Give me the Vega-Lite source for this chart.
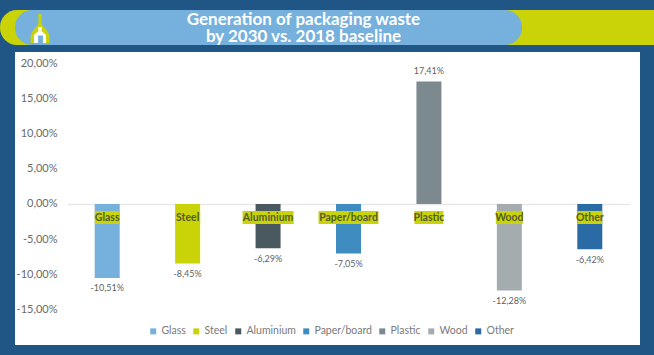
{
"$schema":"https://vega.github.io/schema/vega-lite/v6.json",
"width":625,"height":293,
"autosize":{"type":"none"},
"padding":{"left":15,"top":52,"right":14,"bottom":10},
"background":"#1f5686",
"config":{"locale":{"number":{"decimal":",","thousands":".","grouping":[3],"currency":["","%"],"minus":"-"}},
"font":"Lato","view":{"fill":"#ffffff","stroke":null}},
"title":{"text":["Generation of packaging waste","by 2030 vs. 2018 baseline"],"anchor":"middle","frame":"group","dx":-24,"offset":-36,"font":"Lato","fontSize":17,"fontWeight":"bold","color":"#ffffff","lineHeight":17.5,"zindex":1},
"data":{"values":[
{"material":"Glass","change":-0.1051},
{"material":"Steel","change":-0.0845},
{"material":"Aluminium","change":-0.0629},
{"material":"Paper/board","change":-0.0705},
{"material":"Plastic","change":0.1741},
{"material":"Wood","change":-0.1228},
{"material":"Other","change":-0.0642}
]},
"encoding":{
"x":{"field":"material","type":"nominal","sort":null,"scale":{"range":[52,615]},
"axis":{"title":null,"labels":false,"ticks":false,"domainColor":"#e8e8e8","domainWidth":1.5,"offset":-141,"orient":"bottom"}}
},
"layer":[
{"data":{"values":[{}]},"mark":{"type":"rect","color":"#c9d308","cornerRadiusTopLeft":17,"cornerRadiusBottomLeft":17},
"encoding":{"x":{"value":-15},"x2":{"value":640},"y":{"value":-42},"y2":{"value":-7}}},
{"data":{"values":[{}]},"mark":{"type":"rect","color":"#76b0dc","cornerRadius":17},
"encoding":{"x":{"value":0},"x2":{"value":507},"y":{"value":-42},"y2":{"value":-7}}},
{"data":{"values":[{}]},"mark":{"type":"point","filled":true,"opacity":1,"color":"#c9d308","shape":"M-0.11,-1 L0.11,-1 L0.11,-0.35 C0.15,-0.1 0.65,0.1 0.65,0.6 L0.65,1 L-0.65,1 L-0.65,0.6 C-0.65,0.1 -0.15,-0.1 -0.11,-0.35 Z","size":841},
"encoding":{"x":{"value":25},"y":{"value":-23.5}}},
{"data":{"values":[{}]},"mark":{"type":"point","filled":true,"opacity":1,"color":"#ffffff","shape":"M-0.75,1 L-0.75,0 L-0.2,-0.5 L-0.2,-1 L0.2,-1 L0.2,-0.5 L0.75,0 L0.75,1 Z","size":256},
"encoding":{"x":{"value":25},"y":{"value":-17}}},
{"data":{"values":[{}]},"mark":{"type":"point","filled":true,"opacity":1,"color":"#76b0dc","shape":"M-0.6,1 L-0.6,-1 L0.6,-1 L0.6,1 Z","size":64},
"encoding":{"x":{"value":25.5},"y":{"value":-12.5}}},
{"mark":{"type":"bar","width":25},
"encoding":{
"y":{"field":"change","type":"quantitative","scale":{"domain":[-0.2003,0.2159],"nice":false,"zero":false},
"axis":{"title":null,"values":[0.2,0.15,0.1,0.05,0,-0.05,-0.1,-0.15],"format":".2%","grid":false,"domain":false,"ticks":false,"labelPadding":0,"offset":-42,"labelColor":"#6a6a6a","labelFontSize":11,"labelFont":"Lato"}},
"color":{"field":"material","type":"nominal","sort":null,
"scale":{"range":["#76b0dc","#c9d308","#4a5860","#3f8cc0","#7c8a90","#a5acb0","#2a6ba5"]},
"legend":{"title":null,"orient":"none","legendX":133,"legendY":274,"direction":"horizontal","columns":7,"symbolType":"square","symbolSize":36,"symbolStrokeWidth":0,"labelFontSize":10.5,"labelColor":"#7a7a7a","labelFont":"Lato","columnPadding":5,"labelOffset":3,"padding":0}}
}},
{"mark":{"type":"text","baseline":"middle","dy":10.5,"fontSize":9,"color":"#5f5f5f"},
"transform":[{"filter":"datum.change < 0"}],
"encoding":{"y":{"field":"change","type":"quantitative"},"text":{"field":"change","type":"quantitative","format":".2%"}}},
{"mark":{"type":"text","baseline":"middle","dy":-10.5,"fontSize":9,"color":"#5f5f5f"},
"transform":[{"filter":"datum.change > 0"}],
"encoding":{"y":{"field":"change","type":"quantitative"},"text":{"field":"change","type":"quantitative","format":".2%"}}},
{"mark":{"type":"bar","color":"#c9d308"},
"encoding":{"y":{"datum":-0.0099},"y2":{"datum":-0.0284},
"size":{"condition":[{"test":"datum.material === 'Aluminium'","value":51},{"test":"datum.material === 'Paper/board'","value":60},{"test":"datum.material === 'Plastic'","value":29},{"test":"datum.material === 'Wood'","value":27}],"value":25}}},
{"mark":{"type":"text","baseline":"middle","dy":14,"fontSize":10.5,"fontWeight":"bold","color":"#525c2c"},
"encoding":{"y":{"datum":0},"text":{"field":"material"}}}
]
}
